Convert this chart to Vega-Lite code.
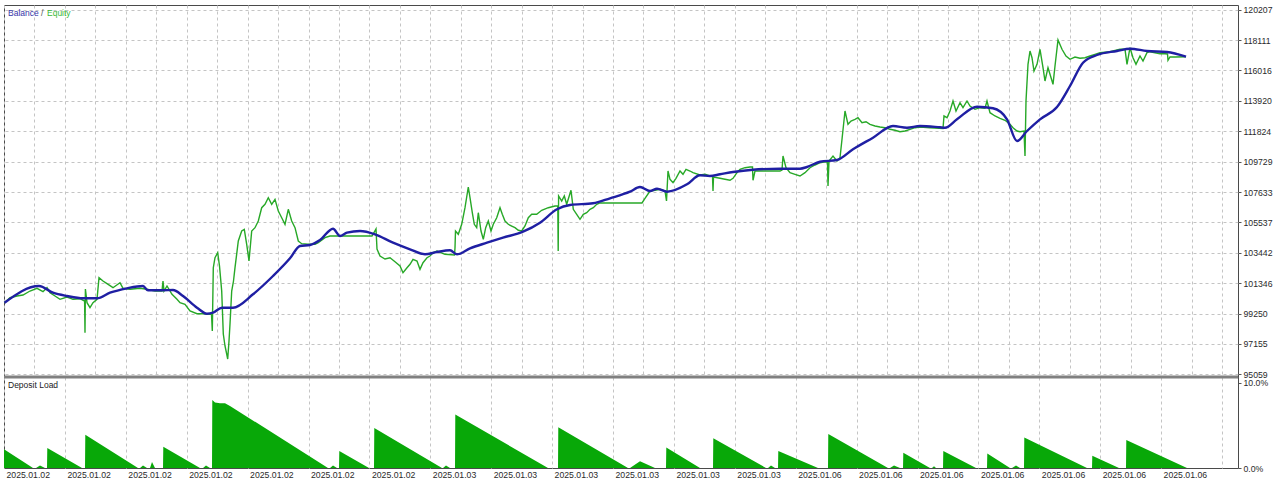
{
  "$schema": "https://vega.github.io/schema/vega-lite/v6.json",
  "padding": {"left": -1, "top": 4, "right": 0, "bottom": 0},
  "background": "white",
  "spacing": 0,
  "bounds": "flush",
  "config": {
    "font": "Liberation Sans",
    "view": {"stroke": "#4a4a4a", "strokeWidth": 1},
    "axis": {
      "gridColor": "#c4c4c4",
      "gridDash": [3, 3],
      "gridWidth": 1,
      "labelFont": "Liberation Sans",
      "labelFontSize": 8.7,
      "labelColor": "#2a2a2a",
      "domain": false,
      "title": null,
      "labelOverlap": false,
      "labelFlush": false,
      "labelBound": false
    }
  },
  "datasets": {
    "balance": [
      {"t": 0.5, "v": 100000}, {"t": 35, "v": 101153}, {"t": 49, "v": 100691}, {"t": 63, "v": 100464},
      {"t": 79, "v": 100305}, {"t": 93, "v": 100305}, {"t": 106, "v": 100691}, {"t": 123, "v": 100994},
      {"t": 139, "v": 101153}, {"t": 144, "v": 100857}, {"t": 159, "v": 100857}, {"t": 169, "v": 100877},
      {"t": 179, "v": 100464}, {"t": 193, "v": 99657}, {"t": 203, "v": 99244}, {"t": 209, "v": 99312},
      {"t": 218, "v": 99657}, {"t": 229, "v": 99657}, {"t": 249, "v": 100581}, {"t": 269, "v": 101842},
      {"t": 286, "v": 103063}, {"t": 296, "v": 103911}, {"t": 306, "v": 103980}, {"t": 316, "v": 104324},
      {"t": 329, "v": 105103}, {"t": 336, "v": 104600}, {"t": 343, "v": 104828}, {"t": 356, "v": 104945},
      {"t": 371, "v": 104717}, {"t": 389, "v": 104138}, {"t": 406, "v": 103683}, {"t": 421, "v": 103339},
      {"t": 433, "v": 103497}, {"t": 446, "v": 103614}, {"t": 453, "v": 103339}, {"t": 466, "v": 103752},
      {"t": 483, "v": 104138}, {"t": 499, "v": 104483}, {"t": 519, "v": 104896}, {"t": 536, "v": 105517},
      {"t": 553, "v": 106441}, {"t": 566, "v": 106737}, {"t": 589, "v": 106854}, {"t": 606, "v": 107199},
      {"t": 626, "v": 107654}, {"t": 636, "v": 107978}, {"t": 646, "v": 107702}, {"t": 653, "v": 107861},
      {"t": 663, "v": 107654}, {"t": 683, "v": 108164}, {"t": 696, "v": 108785}, {"t": 706, "v": 108736},
      {"t": 716, "v": 108854}, {"t": 729, "v": 109012}, {"t": 749, "v": 109171}, {"t": 776, "v": 109240},
      {"t": 796, "v": 109240}, {"t": 803, "v": 109357}, {"t": 816, "v": 109722}, {"t": 833, "v": 109840},
      {"t": 849, "v": 110577}, {"t": 869, "v": 111377}, {"t": 889, "v": 112183}, {"t": 903, "v": 112066},
      {"t": 916, "v": 112183}, {"t": 936, "v": 112094}, {"t": 941, "v": 112066}, {"t": 953, "v": 112645},
      {"t": 973, "v": 113514}, {"t": 989, "v": 113404}, {"t": 1003, "v": 112645}, {"t": 1013, "v": 111149},
      {"t": 1023, "v": 111839}, {"t": 1036, "v": 112645}, {"t": 1053, "v": 113493}, {"t": 1066, "v": 114941},
      {"t": 1079, "v": 116547}, {"t": 1093, "v": 117078}, {"t": 1113, "v": 117354}, {"t": 1126, "v": 117513},
      {"t": 1143, "v": 117354}, {"t": 1163, "v": 117285}, {"t": 1182, "v": 116961}
    ],
    "equity": [
      {"t": 0.5, "v": 100000}, {"t": 6, "v": 100347}, {"t": 13, "v": 100464}, {"t": 19, "v": 100533},
      {"t": 26, "v": 100808}, {"t": 33, "v": 100995}, {"t": 39, "v": 100760}, {"t": 43, "v": 101036},
      {"t": 46, "v": 100691}, {"t": 51, "v": 100464}, {"t": 56, "v": 100236}, {"t": 63, "v": 100395},
      {"t": 69, "v": 100236}, {"t": 76, "v": 100278}, {"t": 80.6, "v": 100119}, {"t": 81, "v": 97934},
      {"t": 81.4, "v": 100946}, {"t": 83, "v": 100002}, {"t": 86, "v": 99657}, {"t": 89, "v": 100002},
      {"t": 93, "v": 100236}, {"t": 95, "v": 101725}, {"t": 99, "v": 101498}, {"t": 103, "v": 101312},
      {"t": 109, "v": 101036}, {"t": 116, "v": 101381}, {"t": 119, "v": 100995}, {"t": 126, "v": 100925},
      {"t": 136, "v": 100995}, {"t": 143, "v": 100925}, {"t": 151, "v": 100808}, {"t": 158, "v": 100808},
      {"t": 159, "v": 101498}, {"t": 160, "v": 100808}, {"t": 163, "v": 101153}, {"t": 168, "v": 100581},
      {"t": 173, "v": 100236}, {"t": 176, "v": 100002}, {"t": 181, "v": 99892}, {"t": 186, "v": 99430},
      {"t": 193, "v": 99244}, {"t": 199, "v": 99244}, {"t": 206, "v": 99202}, {"t": 207.5, "v": 99223},
      {"t": 208.3, "v": 98051}, {"t": 209.3, "v": 102415}, {"t": 211, "v": 103104}, {"t": 213.7, "v": 103449},
      {"t": 215.5, "v": 102532}, {"t": 217.7, "v": 100808}, {"t": 219.3, "v": 97844}, {"t": 221, "v": 97017},
      {"t": 222.7, "v": 96465}, {"t": 223.7, "v": 96120}, {"t": 225, "v": 97361}, {"t": 226, "v": 98533},
      {"t": 227.7, "v": 100808}, {"t": 229.5, "v": 101498}, {"t": 231, "v": 102415}, {"t": 234.3, "v": 104255},
      {"t": 237.7, "v": 104945}, {"t": 240.3, "v": 105062}, {"t": 242.7, "v": 104028}, {"t": 245, "v": 102877},
      {"t": 247.7, "v": 104945}, {"t": 251, "v": 105173}, {"t": 254.3, "v": 105634}, {"t": 257.7, "v": 106551},
      {"t": 261, "v": 106785}, {"t": 264.3, "v": 107241}, {"t": 267.7, "v": 106785}, {"t": 271, "v": 107130},
      {"t": 274.3, "v": 106324}, {"t": 277.7, "v": 105862}, {"t": 281, "v": 105407}, {"t": 284.3, "v": 106441},
      {"t": 287.7, "v": 105634}, {"t": 291, "v": 105173}, {"t": 294.3, "v": 104255}, {"t": 297.7, "v": 104070},
      {"t": 304, "v": 104028}, {"t": 311, "v": 104028}, {"t": 314.3, "v": 104138}, {"t": 321, "v": 104483},
      {"t": 326, "v": 104600}, {"t": 341, "v": 104600}, {"t": 356, "v": 104600},
      {"t": 368, "v": 104600}, {"t": 372, "v": 105083}, {"t": 373, "v": 103704}, {"t": 376, "v": 103221},
      {"t": 381, "v": 103014}, {"t": 386, "v": 103104}, {"t": 391, "v": 102829}, {"t": 396, "v": 102532},
      {"t": 399, "v": 102070}, {"t": 403, "v": 102415}, {"t": 406, "v": 102649}, {"t": 409, "v": 102994},
      {"t": 413, "v": 102877}, {"t": 416, "v": 102304}, {"t": 419, "v": 102760}, {"t": 423, "v": 103104},
      {"t": 426, "v": 103221}, {"t": 429, "v": 103449}, {"t": 433, "v": 103566}, {"t": 441, "v": 103339},
      {"t": 450.5, "v": 103290}, {"t": 451, "v": 103794}, {"t": 451.5, "v": 104945}, {"t": 454.3, "v": 104717},
      {"t": 457.7, "v": 105407}, {"t": 461, "v": 106551}, {"t": 464.3, "v": 107978}, {"t": 466, "v": 107241},
      {"t": 468.3, "v": 106206}, {"t": 470.3, "v": 105407}, {"t": 472.7, "v": 105173}, {"t": 474.3, "v": 106206},
      {"t": 477, "v": 104945}, {"t": 479.3, "v": 104373}, {"t": 481.7, "v": 105173}, {"t": 484.3, "v": 105634},
      {"t": 487, "v": 104945}, {"t": 489.3, "v": 105407}, {"t": 492.7, "v": 105862}, {"t": 496, "v": 106551},
      {"t": 498.3, "v": 106096}, {"t": 501, "v": 105634}, {"t": 504.3, "v": 105407}, {"t": 507.7, "v": 105289},
      {"t": 511, "v": 105173}, {"t": 514.3, "v": 104993}, {"t": 517.7, "v": 104945}, {"t": 521, "v": 105289},
      {"t": 524.3, "v": 105862}, {"t": 527.7, "v": 106096}, {"t": 532.7, "v": 106096}, {"t": 537.7, "v": 106372},
      {"t": 544.3, "v": 106551}, {"t": 551, "v": 106668}, {"t": 553.8, "v": 106668}, {"t": 554.2, "v": 103566},
      {"t": 554.6, "v": 107358}, {"t": 557.7, "v": 107013}, {"t": 560.3, "v": 107358}, {"t": 562.7, "v": 106785},
      {"t": 567, "v": 107751}, {"t": 569.3, "v": 106441}, {"t": 572.7, "v": 106096}, {"t": 576, "v": 105751},
      {"t": 579.3, "v": 106096}, {"t": 582.7, "v": 106206}, {"t": 586, "v": 106441}, {"t": 589.3, "v": 106551},
      {"t": 592.7, "v": 106785}, {"t": 596, "v": 106880}, {"t": 638, "v": 106880}, {"t": 641, "v": 107199},
      {"t": 646, "v": 107702}, {"t": 651, "v": 107751}, {"t": 656, "v": 107820}, {"t": 661, "v": 107702},
      {"t": 662.5, "v": 107013}, {"t": 664, "v": 109081}, {"t": 666, "v": 108509}, {"t": 669, "v": 108275},
      {"t": 672, "v": 108578}, {"t": 676, "v": 109081}, {"t": 679, "v": 108854}, {"t": 682, "v": 109198},
      {"t": 686, "v": 109081}, {"t": 689, "v": 108964}, {"t": 696, "v": 108805}, {"t": 701, "v": 108854},
      {"t": 706, "v": 108736}, {"t": 708.5, "v": 108736}, {"t": 709, "v": 107702}, {"t": 709.5, "v": 108668},
      {"t": 716, "v": 108578}, {"t": 721, "v": 108509}, {"t": 726, "v": 108440}, {"t": 729, "v": 108578},
      {"t": 733, "v": 108964}, {"t": 736, "v": 109198}, {"t": 741, "v": 109309}, {"t": 746, "v": 109357},
      {"t": 748.5, "v": 109357}, {"t": 749, "v": 108440}, {"t": 751, "v": 109081}, {"t": 776, "v": 109081},
      {"t": 778, "v": 109150}, {"t": 779, "v": 110115}, {"t": 782, "v": 109309}, {"t": 786, "v": 108964},
      {"t": 791, "v": 108854}, {"t": 796, "v": 108736}, {"t": 801, "v": 108964}, {"t": 806, "v": 109309},
      {"t": 811, "v": 109495}, {"t": 816, "v": 109654}, {"t": 821, "v": 109723}, {"t": 823.5, "v": 109700},
      {"t": 824, "v": 108047}, {"t": 825, "v": 109771}, {"t": 829, "v": 110115}, {"t": 833, "v": 109771},
      {"t": 836, "v": 109998}, {"t": 838, "v": 111267}, {"t": 841, "v": 113218}, {"t": 844, "v": 112301},
      {"t": 847, "v": 112528}, {"t": 851, "v": 112645}, {"t": 854, "v": 112756}, {"t": 858, "v": 112411},
      {"t": 862, "v": 112480}, {"t": 866, "v": 112301}, {"t": 871, "v": 112183}, {"t": 876, "v": 112115},
      {"t": 881, "v": 112066}, {"t": 886, "v": 111956}, {"t": 891, "v": 111887}, {"t": 896, "v": 111791},
      {"t": 901, "v": 111839}, {"t": 906, "v": 111956}, {"t": 911, "v": 112066}, {"t": 916, "v": 112115},
      {"t": 926, "v": 112066}, {"t": 939, "v": 112011}, {"t": 940, "v": 112873}, {"t": 943, "v": 112756},
      {"t": 946, "v": 113218}, {"t": 949, "v": 113907}, {"t": 952, "v": 113218}, {"t": 956, "v": 113790},
      {"t": 959, "v": 113445}, {"t": 963, "v": 113907}, {"t": 966, "v": 113562}, {"t": 971, "v": 113335},
      {"t": 976, "v": 113445}, {"t": 981, "v": 113404}, {"t": 983, "v": 113907}, {"t": 986, "v": 113101},
      {"t": 991, "v": 112873}, {"t": 996, "v": 112714}, {"t": 1001, "v": 112576}, {"t": 1006, "v": 112301},
      {"t": 1009, "v": 112066}, {"t": 1013, "v": 111839}, {"t": 1016, "v": 111791}, {"t": 1020, "v": 111839},
      {"t": 1021, "v": 110115}, {"t": 1022, "v": 113907}, {"t": 1024, "v": 116437}, {"t": 1026, "v": 117354},
      {"t": 1028, "v": 116892}, {"t": 1030, "v": 115975}, {"t": 1033, "v": 116437}, {"t": 1036, "v": 117471},
      {"t": 1039, "v": 116203}, {"t": 1041, "v": 115286}, {"t": 1044, "v": 116203}, {"t": 1046, "v": 115748},
      {"t": 1049, "v": 115058}, {"t": 1051, "v": 116320}, {"t": 1054, "v": 118112}, {"t": 1058, "v": 117471},
      {"t": 1062, "v": 117009}, {"t": 1066, "v": 116782}, {"t": 1071, "v": 116940}, {"t": 1076, "v": 116851},
      {"t": 1081, "v": 116892}, {"t": 1086, "v": 117009}, {"t": 1091, "v": 117126}, {"t": 1096, "v": 117237},
      {"t": 1106, "v": 117306}, {"t": 1116, "v": 117471}, {"t": 1121, "v": 117471}, {"t": 1123, "v": 116437},
      {"t": 1126, "v": 117582}, {"t": 1129, "v": 116892}, {"t": 1132, "v": 116437}, {"t": 1136, "v": 117009},
      {"t": 1139, "v": 116665}, {"t": 1143, "v": 117237}, {"t": 1146, "v": 117306}, {"t": 1151, "v": 117237},
      {"t": 1156, "v": 117168}, {"t": 1161, "v": 117168}, {"t": 1163.5, "v": 117147}, {"t": 1164, "v": 116713},
      {"t": 1166, "v": 116940}, {"t": 1171, "v": 116940}, {"t": 1182, "v": 116961}
    ],
    "load": [
      {"t": 0, "p": 2.2}, {"t": 29, "p": 0}, {"t": 32, "p": 0}, {"t": 36, "p": 0.3}, {"t": 41, "p": 0},
      {"t": 43, "p": 0}, {"t": 43.3, "p": 2.35}, {"t": 78, "p": 0}, {"t": 81, "p": 0}, {"t": 81.3, "p": 3.9},
      {"t": 134, "p": 0}, {"t": 136, "p": 0}, {"t": 139, "p": 0.3}, {"t": 143, "p": 0}, {"t": 146, "p": 0},
      {"t": 148, "p": 0.7}, {"t": 151, "p": 0}, {"t": 159, "p": 0}, {"t": 159.3, "p": 2.5}, {"t": 196, "p": 0},
      {"t": 199, "p": 0}, {"t": 202, "p": 0.3}, {"t": 206, "p": 0}, {"t": 208, "p": 0}, {"t": 208.3, "p": 8.0},
      {"t": 211, "p": 7.7}, {"t": 216, "p": 7.6}, {"t": 221, "p": 7.6}, {"t": 226, "p": 7.3}, {"t": 324, "p": 0},
      {"t": 326, "p": 0}, {"t": 329, "p": 0.3}, {"t": 333, "p": 0}, {"t": 335, "p": 0}, {"t": 335.3, "p": 2.0},
      {"t": 365, "p": 0}, {"t": 370, "p": 0}, {"t": 370.3, "p": 4.7}, {"t": 438, "p": 0}, {"t": 439, "p": 0},
      {"t": 442, "p": 0.3}, {"t": 446, "p": 0}, {"t": 451, "p": 0}, {"t": 451.3, "p": 6.3}, {"t": 544, "p": 0},
      {"t": 554, "p": 0}, {"t": 554.3, "p": 4.8}, {"t": 624, "p": 0}, {"t": 626, "p": 0}, {"t": 636, "p": 0.8},
      {"t": 651, "p": 0}, {"t": 662, "p": 0}, {"t": 662.3, "p": 2.4}, {"t": 696, "p": 0}, {"t": 709, "p": 0},
      {"t": 709.3, "p": 3.5}, {"t": 762, "p": 0}, {"t": 764, "p": 0}, {"t": 767, "p": 0.3}, {"t": 771, "p": 0},
      {"t": 774, "p": 0}, {"t": 774.3, "p": 2.0}, {"t": 814, "p": 0}, {"t": 824, "p": 0}, {"t": 824.3, "p": 4.0},
      {"t": 884, "p": 0}, {"t": 886, "p": 0}, {"t": 890, "p": 0.3}, {"t": 896, "p": 0}, {"t": 899, "p": 0},
      {"t": 899.3, "p": 1.8}, {"t": 926, "p": 0}, {"t": 928, "p": 0}, {"t": 930, "p": 0.2}, {"t": 932, "p": 0},
      {"t": 939, "p": 0}, {"t": 939.3, "p": 2.0}, {"t": 972, "p": 0}, {"t": 983, "p": 0}, {"t": 983.3, "p": 1.7},
      {"t": 1006, "p": 0}, {"t": 1008, "p": 0}, {"t": 1012, "p": 0.3}, {"t": 1016, "p": 0}, {"t": 1020, "p": 0},
      {"t": 1020.3, "p": 3.6}, {"t": 1083, "p": 0}, {"t": 1088, "p": 0}, {"t": 1088.3, "p": 1.45}, {"t": 1115, "p": 0},
      {"t": 1122, "p": 0}, {"t": 1122.3, "p": 3.3}, {"t": 1183, "p": 0}
    ]
  },
  "vconcat": [
    {
      "width": 1234,
      "height": 372,
      "layer": [
        {
          "data": {"name": "equity"},
          "mark": {"type": "line", "color": "#27a827", "strokeWidth": 1.4},
          "encoding": {
            "x": {
              "field": "t", "type": "quantitative", "title": null,
              "scale": {"domain": [0, 1234], "nice": false, "zero": false},
              "axis": {
                "orient": "bottom", "labels": false, "ticks": false, "grid": true, "domain": false, "labelOverlap": false,
                "values": [0, 30.45, 60.9, 91.35, 121.8, 152.25, 182.7, 213.15, 243.6, 274.05, 304.5, 334.95, 365.4, 395.85, 426.3, 456.75, 487.2, 517.65, 548.1, 578.55, 609, 639.45, 669.9, 700.35, 730.8, 761.25, 791.7, 822.15, 852.6, 883.05, 913.5, 943.95, 974.4, 1004.85, 1035.3, 1065.75, 1096.2, 1126.65, 1157.1, 1187.55, 1218]
              }
            },
            "y": {
              "field": "v", "type": "quantitative", "title": null,
              "scale": {"domain": [94880, 120525], "nice": false, "zero": false},
              "axis": {
                "orient": "right", "grid": true, "ticks": true, "tickSize": 3, "tickColor": "#555555",
                "labelPadding": 2, "format": "d", "labelOverlap": false,
                "values": [95059, 97155, 99250, 101346, 103442, 105537, 107633, 109729, 111824, 113920, 116016, 118111, 120207]
              }
            }
          }
        },
        {
          "data": {"name": "balance"},
          "mark": {"type": "line", "color": "#1f1fa3", "strokeWidth": 2.4, "interpolate": "monotone"},
          "encoding": {
            "x": {
              "field": "t", "type": "quantitative", "title": null,
              "axis": {
                "orient": "bottom", "labels": false, "ticks": false, "grid": true, "domain": false, "labelOverlap": false,
                "values": [0, 30.45, 60.9, 91.35, 121.8, 152.25, 182.7, 213.15, 243.6, 274.05, 304.5, 334.95, 365.4, 395.85, 426.3, 456.75, 487.2, 517.65, 548.1, 578.55, 609, 639.45, 669.9, 700.35, 730.8, 761.25, 791.7, 822.15, 852.6, 883.05, 913.5, 943.95, 974.4, 1004.85, 1035.3, 1065.75, 1096.2, 1126.65, 1157.1, 1187.55, 1218]
              }
            },
            "y": {
              "field": "v", "type": "quantitative", "title": null,
              "axis": {
                "orient": "right", "grid": true, "ticks": true, "tickSize": 3, "tickColor": "#555555",
                "labelPadding": 2, "format": "d", "labelOverlap": false,
                "values": [95059, 97155, 99250, 101346, 103442, 105537, 107633, 109729, 111824, 113920, 116016, 118111, 120207]
              }
            }
          }
        },
        {
          "data": {"values": [{"label": "Balance"}]},
          "mark": {"type": "text", "align": "left", "baseline": "middle", "fontSize": 8.5, "color": "#3535a8"},
          "encoding": {
            "x": {
              "datum": 4, "type": "quantitative", "title": null,
              "axis": {
                "orient": "bottom", "labels": false, "ticks": false, "grid": true, "domain": false, "labelOverlap": false,
                "values": [0, 30.45, 60.9, 91.35, 121.8, 152.25, 182.7, 213.15, 243.6, 274.05, 304.5, 334.95, 365.4, 395.85, 426.3, 456.75, 487.2, 517.65, 548.1, 578.55, 609, 639.45, 669.9, 700.35, 730.8, 761.25, 791.7, 822.15, 852.6, 883.05, 913.5, 943.95, 974.4, 1004.85, 1035.3, 1065.75, 1096.2, 1126.65, 1157.1, 1187.55, 1218]
              }
            },
            "y": {
              "datum": 119975, "type": "quantitative", "title": null,
              "axis": {
                "orient": "right", "grid": true, "ticks": true, "tickSize": 3, "tickColor": "#555555",
                "labelPadding": 2, "format": "d", "labelOverlap": false,
                "values": [95059, 97155, 99250, 101346, 103442, 105537, 107633, 109729, 111824, 113920, 116016, 118111, 120207]
              }
            },
            "text": {"field": "label", "type": "nominal"}
          }
        },
        {
          "data": {"values": [{"label": "/"}]},
          "mark": {"type": "text", "align": "left", "baseline": "middle", "fontSize": 8.5, "color": "#555555"},
          "encoding": {
            "x": {
              "datum": 37, "type": "quantitative", "title": null,
              "axis": {
                "orient": "bottom", "labels": false, "ticks": false, "grid": true, "domain": false, "labelOverlap": false,
                "values": [0, 30.45, 60.9, 91.35, 121.8, 152.25, 182.7, 213.15, 243.6, 274.05, 304.5, 334.95, 365.4, 395.85, 426.3, 456.75, 487.2, 517.65, 548.1, 578.55, 609, 639.45, 669.9, 700.35, 730.8, 761.25, 791.7, 822.15, 852.6, 883.05, 913.5, 943.95, 974.4, 1004.85, 1035.3, 1065.75, 1096.2, 1126.65, 1157.1, 1187.55, 1218]
              }
            },
            "y": {
              "datum": 119975, "type": "quantitative", "title": null,
              "axis": {
                "orient": "right", "grid": true, "ticks": true, "tickSize": 3, "tickColor": "#555555",
                "labelPadding": 2, "format": "d", "labelOverlap": false,
                "values": [95059, 97155, 99250, 101346, 103442, 105537, 107633, 109729, 111824, 113920, 116016, 118111, 120207]
              }
            },
            "text": {"field": "label", "type": "nominal"}
          }
        },
        {
          "data": {"values": [{"label": "Equity"}]},
          "mark": {"type": "text", "align": "left", "baseline": "middle", "fontSize": 8.5, "color": "#38b838"},
          "encoding": {
            "x": {
              "datum": 43, "type": "quantitative", "title": null,
              "axis": {
                "orient": "bottom", "labels": false, "ticks": false, "grid": true, "domain": false, "labelOverlap": false,
                "values": [0, 30.45, 60.9, 91.35, 121.8, 152.25, 182.7, 213.15, 243.6, 274.05, 304.5, 334.95, 365.4, 395.85, 426.3, 456.75, 487.2, 517.65, 548.1, 578.55, 609, 639.45, 669.9, 700.35, 730.8, 761.25, 791.7, 822.15, 852.6, 883.05, 913.5, 943.95, 974.4, 1004.85, 1035.3, 1065.75, 1096.2, 1126.65, 1157.1, 1187.55, 1218]
              }
            },
            "y": {
              "datum": 119975, "type": "quantitative", "title": null,
              "axis": {
                "orient": "right", "grid": true, "ticks": true, "tickSize": 3, "tickColor": "#555555",
                "labelPadding": 2, "format": "d", "labelOverlap": false,
                "values": [95059, 97155, 99250, 101346, 103442, 105537, 107633, 109729, 111824, 113920, 116016, 118111, 120207]
              }
            },
            "text": {"field": "label", "type": "nominal"}
          }
        }
      ]
    },
    {
      "width": 1234,
      "height": 91,
      "layer": [
        {
          "data": {"name": "load"},
          "mark": {"type": "area", "color": "#08a808", "opacity": 1},
          "encoding": {
            "x": {
              "field": "t", "type": "quantitative", "title": null,
              "scale": {"domain": [0, 1234], "nice": false, "zero": false},
              "axis": {
                "orient": "bottom", "grid": true, "ticks": false, "domain": false,
                "labelAlign": "left", "labelPadding": 2, "labelOffset": 2, "labelOverlap": false,
                "values": [0, 30.45, 60.9, 91.35, 121.8, 152.25, 182.7, 213.15, 243.6, 274.05, 304.5, 334.95, 365.4, 395.85, 426.3, 456.75, 487.2, 517.65, 548.1, 578.55, 609, 639.45, 669.9, 700.35, 730.8, 761.25, 791.7, 822.15, 852.6, 883.05, 913.5, 943.95, 974.4, 1004.85, 1035.3, 1065.75, 1096.2, 1126.65, 1157.1, 1187.55, 1218],
                "labelExpr": "(round(datum.value / 30.45) % 2 == 1 || datum.value > 1200) ? '' : (datum.value < 400 ? '2025.01.02' : (datum.value < 760 ? '2025.01.03' : '2025.01.06'))"
              }
            },
            "y": {
              "field": "p", "type": "quantitative", "title": null,
              "scale": {"domain": [0, 10.7], "nice": false, "zero": true},
              "axis": {
                "orient": "right", "grid": false, "ticks": true, "tickSize": 3, "tickColor": "#555555",
                "labelPadding": 2, "values": [0, 10], "labelOverlap": false,
                "labelExpr": "format(datum.value, '.1f') + '%'"
              }
            }
          }
        },
        {
          "data": {"values": [{"label": "separator"}]},
          "mark": {"type": "rule", "color": "#808080", "strokeWidth": 3},
          "encoding": {"y": {"datum": 10.7, "type": "quantitative", "title": null}}
        },
        {
          "data": {"values": [{"label": "Deposit Load"}]},
          "mark": {"type": "text", "align": "left", "baseline": "middle", "fontSize": 8.5, "color": "#222222"},
          "encoding": {
            "x": {"datum": 4, "type": "quantitative", "title": null},
            "y": {"datum": 9.75, "type": "quantitative", "title": null},
            "text": {"field": "label", "type": "nominal"}
          }
        }
      ]
    }
  ]
}
